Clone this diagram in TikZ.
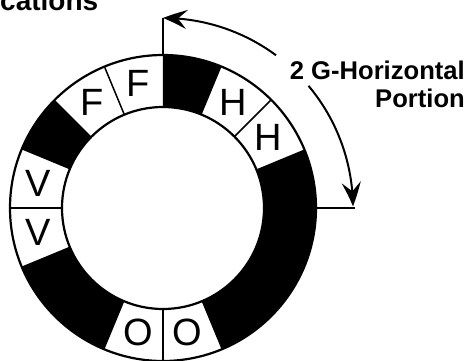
\documentclass[tikz,border=0pt]{standalone}
\usepackage{fontspec}
\setmainfont{Liberation Sans}
\usetikzlibrary{arrows.meta,bending}
\begin{document}
\begin{tikzpicture}[x=1pt,y=1pt,
  ringline/.style={line width=2.2pt},
  divline/.style={line width=1.5pt},
  cellfill/.style={fill=black},
  letter/.style={inner sep=0pt,font=\fontsize{38}{38}\selectfont},
  bigarrow/.style={line width=2pt,-{Stealth[length=24pt,width=19pt,inset=9pt,bend]}},
  label/.style={inner sep=0pt,align=right,font=\fontsize{25.6}{28}\selectfont\bfseries},
  title/.style={inner sep=0pt,font=\fontsize{28}{30}\selectfont\bfseries}]
\useasboundingbox (-163,-152) rectangle (304,208);
\fill[white] (-163,-152) rectangle (304,208);
\def\Ro{153}
\def\Ri{101}
% black cells
\foreach \a/\b in {67.5/90, -67.5/22.5, -157.5/-112.5, 135/157.5}
  \fill[cellfill] (\a:\Ri) arc[start angle=\a,end angle=\b,radius=\Ri] -- (\b:\Ro) arc[start angle=\b,end angle=\a,radius=\Ro] -- cycle;
% circles
\node[circle,draw,ringline,minimum size=2*\Ro pt,inner sep=0pt] (outer) at (0,0) {};
\node[circle,draw,ringline,minimum size=2*\Ri pt,inner sep=0pt] (inner) at (0,0) {};
% dividers between white cells
\foreach \a in {45,-90,180,112.5}
  \draw[divline] (\a:\Ri) -- (\a:\Ro);
% letters
\node[letter] (h1) at (56.25:127) {H};
\node[letter] (h2) at (33.75:127) {H};
\node[letter] (o1) at (-78.75:127) {O};
\node[letter] (o2) at (-101.25:127) {O};
\node[letter] (v1) at (-168.75:127) {V};
\node[letter] (v2) at (168.75:127) {V};
\node[letter] (f1) at (123.75:127) {F};
\node[letter] (f2) at (101.25:127) {F};
% extension lines
\coordinate (topin) at (90:\Ro);
\coordinate (topout) at (90:190);
\coordinate (rightin) at (0:\Ro);
\coordinate (rightout) at (0:192);
\draw[ringline] (topin) -- (topout);
\draw[ringline] (rightin) -- (rightout);
% arrows
\coordinate (arcA) at (53.5:190);
\coordinate (arcB) at (40:190);
\draw[bigarrow] (arcA) arc[start angle=53.5,end angle=90,radius=190];
\draw[bigarrow] (arcB) arc[start angle=40,end angle=0.5,radius=190];
% label
\node[label,anchor=north east] (lab) at (302,147) {2 G-Horizontal\\Portion};
% title (cut off at the top edge, as in the reference)
\node[title,anchor=base west] (ttl) at (-163,198) {cations};
\end{tikzpicture}
\end{document}
